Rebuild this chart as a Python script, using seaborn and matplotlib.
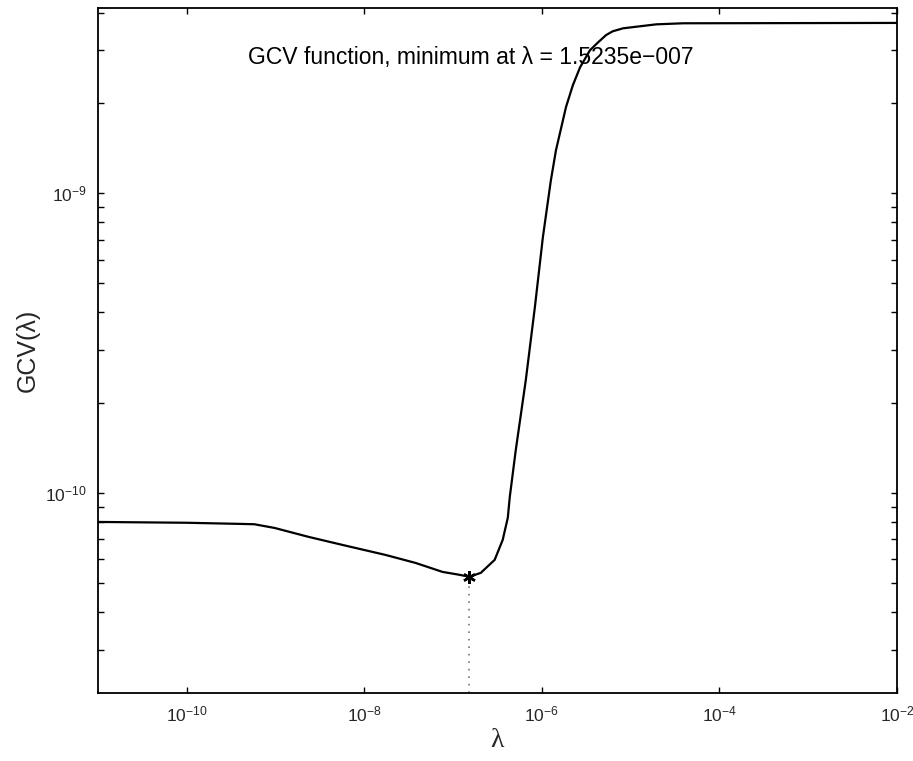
import numpy as np
import pandas as pd
import matplotlib
matplotlib.use("Agg")
import matplotlib.pyplot as plt
import matplotlib.ticker as mticker
import seaborn as sns

# ---- data ----
lam = [1.0e-11, 1.0e-10, 4.11e-10, 5.77e-10, 9.75e-10, 2.37e-9, 5.62e-9, 1.73e-8,
       3.77e-8, 7.6e-8, 1.18e-7, 1.5235e-7, 2.05e-7, 2.94e-7, 3.62e-7, 4.13e-7,
       4.35e-7, 5.08e-7, 6.59e-7, 8.34e-7, 1.026e-6, 1.26e-6, 1.44e-6, 1.87e-6,
       2.23e-6, 2.69e-6, 3.48e-6, 4.26e-6, 5.28e-6, 6.28e-6, 8.2e-6, 1.94e-5,
       3.9e-5, 1.0e-2]
gcv = [8.0e-11, 7.95e-11, 7.88e-11, 7.86e-11, 7.64e-11, 7.13e-11, 6.71e-11, 6.21e-11,
       5.84e-11, 5.45e-11, 5.33e-11, 5.25e-11, 5.41e-11, 5.98e-11, 6.97e-11, 8.26e-11,
       9.7e-11, 1.39e-10, 2.38e-10, 4.17e-10, 7.13e-10, 1.10e-9, 1.39e-9, 1.94e-9,
       2.29e-9, 2.63e-9, 3.0e-9, 3.18e-9, 3.37e-9, 3.47e-9, 3.55e-9, 3.66e-9,
       3.69e-9, 3.70e-9]
x_ticks = [1e-10, 1e-8, 1e-6, 1e-4, 1e-2]
y_ticks = [1e-10, 1e-9]
title_text = "GCV function, minimum at \u03bb = 1.5235e\u2212007"
x_label = "\u03bb"
y_label = "GCV(\u03bb)"

df = pd.DataFrame({"lam": lam, "gcv": gcv})
imin = int(np.argmin(gcv))

sns.set_style("white")
plt.rcParams['font.family'] = ['Liberation Sans', 'DejaVu Sans']
plt.rcParams['mathtext.fontset'] = 'custom'
plt.rcParams['mathtext.rm'] = 'Liberation Sans'
plt.rcParams['mathtext.it'] = 'Liberation Sans:italic'
plt.rcParams['mathtext.bf'] = 'Liberation Sans:bold'

fig = plt.figure(figsize=(9.13, 7.61), dpi=100)
ax = fig.add_axes([0.1073, 0.0894, 0.8752, 0.9001])

ymin, ymax = 2.15e-11, 4.15e-9

sns.lineplot(data=df, x="lam", y="gcv", ax=ax, color="black", linewidth=1.6,
             estimator=None, sort=False)
ax.plot([lam[imin], lam[imin]], [ymin, gcv[imin]], linestyle=(0, (1, 3.5)),
        color="#777777", linewidth=1.2)
ax.plot([lam[imin]], [gcv[imin]], marker=(6, 2, 0), color="black", markersize=9,
        markeredgewidth=1.8, linestyle="none")

ax.set_xscale("log")
ax.set_yscale("log")
ax.set_xlim(1e-11, 1e-2)
ax.set_ylim(ymin, ymax)

ax.xaxis.set_major_locator(mticker.FixedLocator(x_ticks))
ax.xaxis.set_minor_locator(mticker.NullLocator())
ax.xaxis.set_major_formatter(mticker.LogFormatterSciNotation())
ax.yaxis.set_major_locator(mticker.FixedLocator(y_ticks))
ax.yaxis.set_minor_locator(mticker.LogLocator(base=10, subs=np.arange(2, 10)))
ax.yaxis.set_minor_formatter(mticker.NullFormatter())
ax.yaxis.set_major_formatter(mticker.LogFormatterSciNotation())

ax.tick_params(axis="both", which="both", direction="in", top=True, right=True,
               left=True, bottom=True, length=4.5, width=1.0, color="black",
               labelsize=12.5, pad=8)
for s in ax.spines.values():
    s.set_visible(True)
    s.set_color("black")
    s.set_linewidth(1.3)

ax.text(0.467, 0.927, title_text, transform=ax.transAxes, ha="center", va="center",
        fontsize=16.5, color="black")
ax.set_xlabel(x_label, fontsize=20, family=['Liberation Serif', 'DejaVu Serif'], labelpad=3)
ax.set_ylabel(y_label, fontsize=18, labelpad=4)

fig.savefig("out.png", dpi=100, facecolor="white")
